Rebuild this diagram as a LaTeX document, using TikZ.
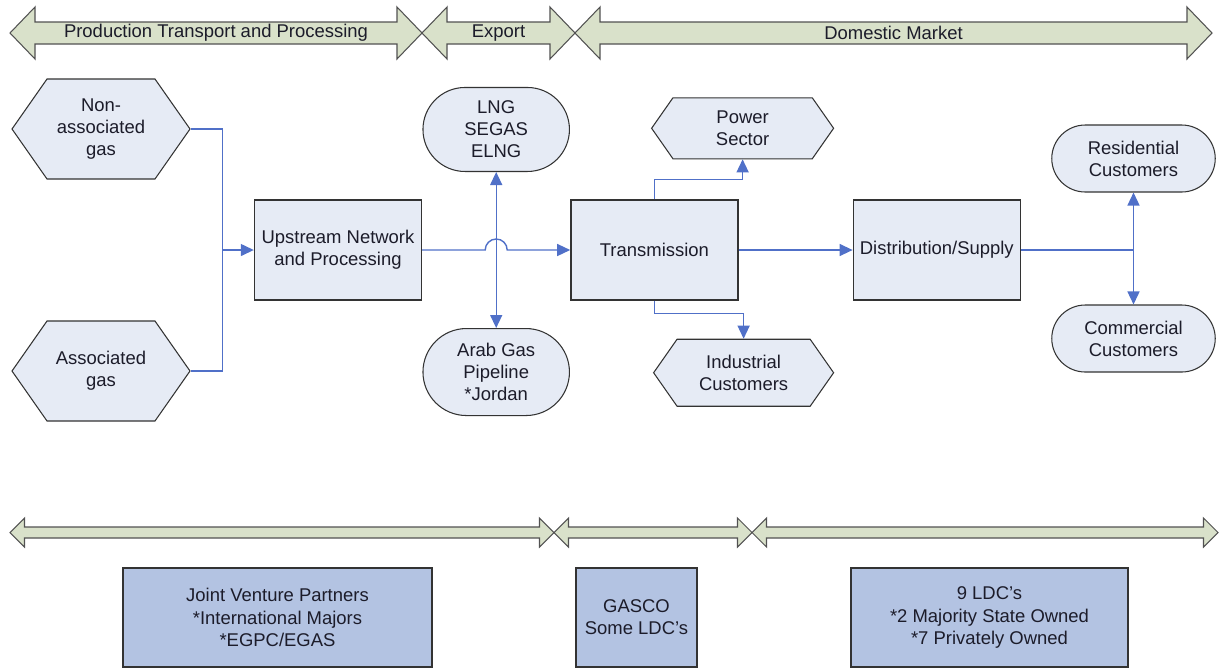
\documentclass[tikz,border=0pt]{standalone}
\usepackage{fontspec}
\setmainfont{Liberation Sans}
\usetikzlibrary{positioning,arrows.meta,shapes.symbols,shapes.misc,calc}
\definecolor{cnodo}{HTML}{E6EBF5}
\definecolor{cfondo}{HTML}{B3C3E2}
\definecolor{cbanda}{HTML}{D9E1CA}
\definecolor{cborde}{HTML}{333333}
\definecolor{clinea}{HTML}{5070C8}
\definecolor{ctexto}{HTML}{1C1C2A}
% banda: izq, der, y, medio eje, medio punta, largo punta
\newcommand{\banda}[6]{%
  \draw[banda] (#1,#3) -- ({#1+#6},{#3+#5}) -- ({#1+#6},{#3+#4}) -- ({#2-#6},{#3+#4})
    -- ({#2-#6},{#3+#5}) -- (#2,#3) -- ({#2-#6},{#3-#5}) -- ({#2-#6},{#3-#4})
    -- ({#1+#6},{#3-#4}) -- ({#1+#6},{#3-#5}) -- cycle;}
\tikzset{
  texto/.style={font=\fontsize{10.5}{12.6}\selectfont, align=center, text=ctexto},
  caja/.style={texto, rectangle, draw=cborde, line width=0.8pt, fill=cnodo,
    minimum width=3.34cm, minimum height=2cm, inner sep=2pt},
  hexa/.style={texto, signal, signal to=east and west, signal pointer angle=110,
    draw=cborde, line width=0.6pt, fill=cnodo, inner sep=1pt},
  capsula/.style={texto, rounded rectangle, draw=cborde, line width=0.6pt,
    fill=cnodo, inner sep=1pt},
  cajafondo/.style={texto, rectangle, draw=cborde, line width=0.8pt, fill=cfondo,
    minimum height=1.98cm},
  banda/.style={draw=cborde!85, line width=0.6pt, fill=cbanda},
  rotulo/.style={texto, inner sep=0pt},
  linea/.style={draw=clinea, line width=0.8pt},
  flecha/.style={linea, -{Triangle[length=2.6mm,width=2.4mm]}},
  flechas/.style={linea, {Triangle[length=2.6mm,width=2.4mm]}-{Triangle[length=2.6mm,width=2.4mm]}},
}
\begin{document}
\begin{tikzpicture}
  \useasboundingbox (0,0) rectangle (24.42,-13.38);
  % bandas de etapas
  \banda{0.2}{8.44}{-0.66}{0.22}{0.52}{0.5}
  \banda{8.44}{11.5}{-0.66}{0.22}{0.52}{0.5}
  \banda{11.5}{24.24}{-0.66}{0.22}{0.52}{0.5}
  \node[rotulo] (tprod) at (4.32,-0.66) {Production Transport and Processing};
  \node[rotulo] (texp) at (9.97,-0.66) {Export};
  \node[rotulo] (tdom) at (17.87,-0.66) {Domestic Market};
  \banda{0.2}{11.08}{-10.65}{0.11}{0.29}{0.29}
  \banda{11.08}{15.04}{-10.65}{0.11}{0.29}{0.29}
  \banda{15.04}{24.36}{-10.65}{0.11}{0.29}{0.29}
  % cadena principal
  \node[caja] (upstream) at (6.76,-5) {Upstream Network\\and Processing};
  \node[caja, right=2.96cm of upstream] (trans) {Transmission};
  \node[caja, right=2.28cm of trans] (distrib) {Distribution/Supply};
  \node[hexa, minimum width=3.56cm, minimum height=2cm] (noasoc) at (2.02,-2.58) {Non-\\associated\\gas};
  \node[hexa, minimum width=3.56cm, minimum height=2cm] (asoc) at (2.02,-7.42) {Associated\\gas};
  \coordinate (medio) at ($(upstream.east)!0.5!(trans.west)$);
  \node[capsula, minimum width=3cm, minimum height=1.68cm, above=1.56cm of medio] (lng) {LNG\\SEGAS\\ELNG};
  \node[capsula, minimum width=3cm, minimum height=1.74cm, below=1.56cm of medio] (arab) {Arab Gas\\Pipeline\\*Jordan};
  \node[hexa, minimum width=3.64cm, minimum height=1.22cm, above=0.8cm of trans.north east, xshift=0.08cm] (power) {Power\\Sector};
  \node[hexa, minimum width=3.6cm, minimum height=1.34cm, below=0.76cm of trans.south east, xshift=0.1cm] (indus) {Industrial\\Customers};
  \node[capsula, minimum width=3.34cm, minimum height=1.34cm] (resid) at (22.67,-3.17) {Residential\\Customers};
  \node[capsula, minimum width=3.34cm, minimum height=1.34cm] (comer) at (22.67,-6.77) {Commercial\\Customers};
  % actores
  \node[cajafondo, minimum width=6.18cm] (socios) at (5.55,-12.35) {Joint Venture Partners\\*International Majors\\*EGPC/EGAS};
  \node[cajafondo, minimum width=2.42cm] (gasco) at (12.73,-12.35) {GASCO\\Some LDC's};
  \node[cajafondo, minimum width=5.54cm] (ldcs) at (19.79,-12.35) {9 LDC's\\*2 Majority State Owned\\*7 Privately Owned};
  % conexiones
  \coordinate (junta) at (4.45,-5);
  \draw[linea] (noasoc.east) -| (junta) |- (asoc.east);
  \draw[flecha] (junta) -- (upstream.west);
  \coordinate (cruce) at (lng.south |- upstream.east);
  \draw[flechas] (lng.south) -- (arab.north);
  \draw[flecha] (upstream.east) -- ([xshift=-0.22cm]cruce) arc[start angle=180, end angle=0, radius=0.22cm] -- (trans.west);
  \draw[flecha] (trans.north) -- ++(0,0.4) -| (power.south);
  \draw[flecha] (trans.south) -- ++(0,-0.26) -| (indus.north);
  \draw[flecha] (trans.east) -- (distrib.west);
  \coordinate (reparto) at (distrib.east -| resid.south);
  \draw[linea] (distrib.east) -- (reparto);
  \draw[flechas] (resid.south) -- (comer.north);
\end{tikzpicture}
\end{document}
